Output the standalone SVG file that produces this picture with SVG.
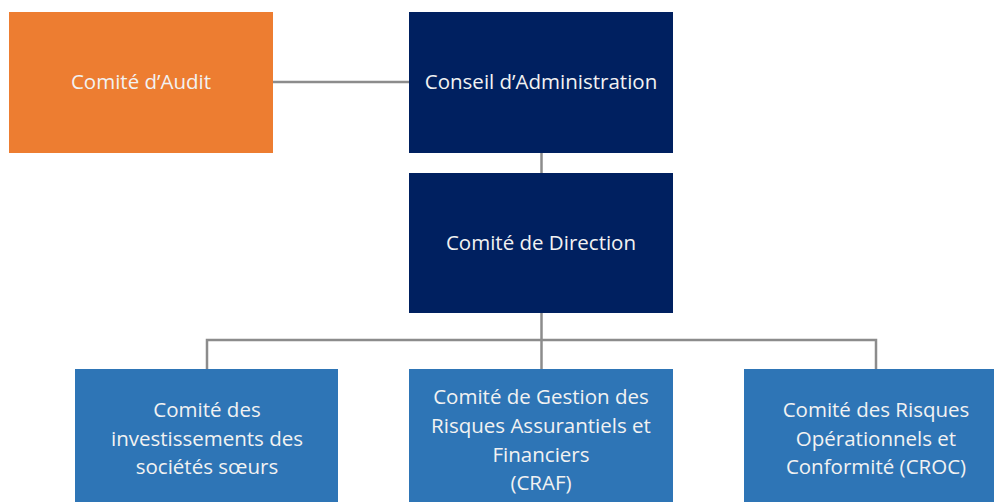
<svg xmlns="http://www.w3.org/2000/svg" width="994" height="502" viewBox="0 0 994 502">
<style>
.t{font-family:"Open Sans","Noto Sans","Liberation Sans",sans-serif;font-size:20.5px;fill:#f2f2f2;text-anchor:middle}
.c{stroke:#8c8c8c;stroke-width:2.5;fill:none}
</style>
<rect width="994" height="502" fill="#ffffff"/>
<g id="connectors">
<line class="c" x1="273" y1="82" x2="409" y2="82"/>
<line class="c" x1="541.5" y1="153" x2="541.5" y2="173"/>
<line class="c" x1="541.5" y1="313" x2="541.5" y2="369"/>
<polyline class="c" points="207,369 207,340 876,340 876,369"/>
</g>
<g id="audit">
<rect x="9" y="12" width="264" height="141" fill="#ed7d31"/>
<text class="t" x="141" y="89">Comité d’Audit</text>
</g>
<g id="conseil">
<rect x="409" y="12" width="264" height="141" fill="#002060"/>
<text class="t" x="541" y="89">Conseil d’Administration</text>
</g>
<g id="direction">
<rect x="409" y="173" width="264" height="140" fill="#002060"/>
<text class="t" x="541" y="250">Comité de Direction</text>
</g>
<g id="investissements">
<rect x="75" y="369" width="263" height="140" fill="#2e75b6"/>
<text class="t" x="207" y="417">Comité des</text>
<text class="t" x="207" y="446">investissements des</text>
<text class="t" x="207" y="474">sociétés sœurs</text>
</g>
<g id="craf">
<rect x="409" y="369" width="264" height="140" fill="#2e75b6"/>
<text class="t" x="541" y="404">Comité de Gestion des</text>
<text class="t" x="541" y="433">Risques Assurantiels et</text>
<text class="t" x="541" y="461.5">Financiers</text>
<text class="t" x="541" y="490">(CRAF)</text>
</g>
<g id="croc">
<rect x="744" y="369" width="264" height="140" fill="#2e75b6"/>
<text class="t" x="876" y="417">Comité des Risques</text>
<text class="t" x="876" y="446">Opérationnels et</text>
<text class="t" x="876" y="474">Conformité (CROC)</text>
</g>
</svg>
